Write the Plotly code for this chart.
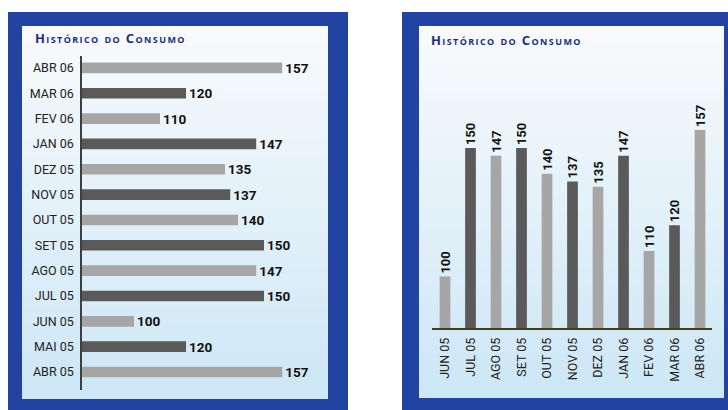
import plotly.graph_objects as go

# Monthly consumption, chronological order
months_h = ["ABR 05", "MAI 05", "JUN 05", "JUL 05", "AGO 05", "SET 05", "OUT 05",
            "NOV 05", "DEZ 05", "JAN 06", "FEV 06", "MAR 06", "ABR 06"]
values_h = [157, 120, 100, 150, 147, 150, 140, 137, 135, 147, 110, 120, 157]

months_v = ["JUN 05", "JUL 05", "AGO 05", "SET 05", "OUT 05", "NOV 05",
            "DEZ 05", "JAN 06", "FEV 06", "MAR 06", "ABR 06"]
values_v = [100, 150, 147, 150, 140, 137, 135, 147, 110, 120, 157]

TITLE = "Histórico do Consumo"

W, H = 728, 410
LIGHT = "#a6a6a6"
DARK = "#5a5a5a"
NAVY = "#1d2d7e"
BORDER = "#2343a3"
LABEL_FONT = "Roboto, Arial, sans-serif"
AXIS_START = 80  # value axes start above zero


def px_x(x):
    return x / W


def px_y(y):
    return 1 - y / H


def lerp_hex(c1, c2, t):
    a = [int(c1[i:i + 2], 16) for i in (1, 3, 5)]
    b = [int(c2[i:i + 2], 16) for i in (1, 3, 5)]
    return "#" + "".join(f"{round(a[k] + (b[k] - a[k]) * t):02x}" for k in range(3))


def panel_shapes(outer, inner, top_col="#f8fafc", bot_col="#cde7f6", strips=40):
    shapes = [dict(type="rect", xref="paper", yref="paper", layer="below",
                   x0=px_x(outer[0]), x1=px_x(outer[2]),
                   y0=px_y(outer[3]), y1=px_y(outer[1]),
                   fillcolor=BORDER, line_width=0)]
    x0, y0, x1, y1 = inner
    step = (y1 - y0) / strips
    for i in range(strips):
        ya = y0 + i * step
        yb = ya + step + 1.0
        shapes.append(dict(type="rect", xref="paper", yref="paper", layer="below",
                           x0=px_x(x0), x1=px_x(x1),
                           y0=px_y(min(yb, y1)), y1=px_y(ya),
                           fillcolor=lerp_hex(top_col, bot_col, i / (strips - 1)),
                           line_width=0))
    return shapes


colors_h = [LIGHT if i % 2 == 0 else DARK for i in range(len(months_h))]
colors_v = [LIGHT if i % 2 == 0 else DARK for i in range(len(months_v))]

fig = go.Figure()

# Horizontal bars (left panel)
fig.add_trace(go.Bar(
    y=months_h, x=values_h, orientation="h",
    marker=dict(color=colors_h, line_width=0), width=0.42,
    text=[str(v) for v in values_h], textposition="outside", constraintext="none",
    textfont=dict(family=LABEL_FONT, size=13.5, color="#111111", weight="bold"),
    cliponaxis=True, xaxis="x", yaxis="y", showlegend=False,
))

# Vertical bars (right panel)
fig.add_trace(go.Bar(
    x=months_v, y=values_v,
    marker=dict(color=colors_v, line_width=0), width=0.42,
    text=[str(v) for v in values_v], textposition="outside", textangle=-90,
    constraintext="none",
    textfont=dict(family=LABEL_FONT, size=13, color="#111111", weight="bold"),
    cliponaxis=True, xaxis="x2", yaxis="y2", showlegend=False,
))

shapes = panel_shapes((8, 12, 348, 410), (22, 26, 328, 399))
shapes += panel_shapes((402, 12, 728, 410), (419, 26, 724, 398))

title_html = f'<span style="letter-spacing:1.4px">{TITLE}</span>'

fig.update_layout(
    width=W, height=H,
    margin=dict(l=0, r=0, t=0, b=0),
    paper_bgcolor="white", plot_bgcolor="rgba(0,0,0,0)",
    shapes=shapes,
    uniformtext=dict(mode=False),
    xaxis=dict(domain=[px_x(82), px_x(328)],
               range=[AXIS_START, AXIS_START + (328 - 82) / 2.6],
               visible=False, showgrid=False, fixedrange=True),
    yaxis=dict(domain=[px_y(390), px_y(56)], range=[-0.71, 12.47],
               type="category", showline=True, linecolor="#3f3f3f", linewidth=1.5,
               showgrid=False, zeroline=False, ticks="", ticklabelstandoff=4,
               tickfont=dict(family=LABEL_FONT, size=12.5, color="#222222"),
               anchor="x", fixedrange=True),
    xaxis2=dict(domain=[px_x(432), px_x(712)], range=[-0.51, 10.47],
                type="category", showline=True, linecolor="#3e3d28", linewidth=1.5,
                showgrid=False, zeroline=False, ticks="", tickangle=-90,
                ticklabelstandoff=3,
                tickfont=dict(family=LABEL_FONT, size=12.5, color="#222222"),
                anchor="y2", fixedrange=True),
    yaxis2=dict(domain=[px_y(328), px_y(100)],
                range=[AXIS_START, AXIS_START + (328 - 100) / 2.57],
                visible=False, showgrid=False, anchor="x2", fixedrange=True),
    annotations=[
        dict(text=title_html, xref="paper", yref="paper", x=px_x(33), y=px_y(38),
             xanchor="left", yanchor="middle", showarrow=False,
             font=dict(family="Open Sans, sans-serif", size=13, color=NAVY,
                       weight="bold", variant="small-caps")),
        dict(text=title_html, xref="paper", yref="paper", x=px_x(429), y=px_y(40),
             xanchor="left", yanchor="middle", showarrow=False,
             font=dict(family="Open Sans, sans-serif", size=13, color=NAVY,
                       weight="bold", variant="small-caps")),
    ],
)

fig.write_html("out.html")
